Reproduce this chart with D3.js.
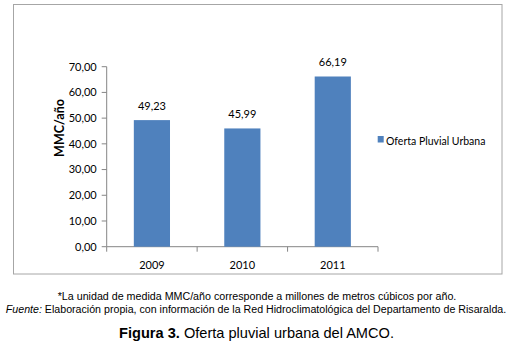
<!DOCTYPE html>
<html>
<head>
<meta charset="utf-8">
<script src="https://cdn.jsdelivr.net/npm/d3@7"></script>
<style>
  body { margin: 0; background: #fff; }
  svg { display: block; }
</style>
</head>
<body>
<script>
  // data
  const years = ["2009", "2010", "2011"];
  const values = [49.23, 45.99, 66.19];
  const seriesName = "Oferta Pluvial Urbana";
  const yTicks = [0, 10, 20, 30, 40, 50, 60, 70];

  const width = 512, height = 351;
  const chartFont = "Lato, 'Open Sans', sans-serif";
  const barColor = "#4f81bd";
  const axisColor = "#868686";

  const svg = d3.select("body").append("svg")
    .attr("width", width)
    .attr("height", height);

  // chart frame
  svg.append("rect")
    .attr("x", 13.5).attr("y", 4.5)
    .attr("width", 488.5).attr("height", 269.5)
    .attr("fill", "#fff")
    .attr("stroke", "#a6a6a6")
    .attr("stroke-width", 1);

  const x = d3.scaleBand()
    .domain(years)
    .range([106.7, 378])
    .paddingInner(0.6)
    .paddingOuter(0.3);

  const y = d3.scaleLinear()
    .domain([0, 70])
    .range([246.7, 66.7]);

  const fmt = (v) => d3.format(".2f")(v).replace(".", ",");

  // y axis
  const gy = svg.append("g").attr("transform", "translate(106.7,0)");
  gy.append("line")
    .attr("y1", y(70)).attr("y2", y(0))
    .attr("stroke", axisColor);
  gy.selectAll(".tick")
    .data(yTicks)
    .join("line")
    .attr("x1", -5).attr("x2", 0)
    .attr("y1", (d) => y(d)).attr("y2", (d) => y(d))
    .attr("stroke", axisColor);
  gy.selectAll("text")
    .data(yTicks)
    .join("text")
    .attr("x", -10)
    .attr("y", (d) => y(d))
    .attr("dy", "0.35em")
    .attr("text-anchor", "end")
    .attr("font-family", chartFont)
    .attr("font-size", 11)
    .attr("fill", "#000")
    .text((d) => fmt(d));

  // x axis
  const step = x.step();
  const edges = [x.range()[0]].concat(years.map((d) => x(d) + x.bandwidth() + step * x.paddingInner() / 2));
  edges[edges.length - 1] = x.range()[1];
  const gx = svg.append("g");
  gx.append("line")
    .attr("x1", x.range()[0]).attr("x2", x.range()[1])
    .attr("y1", y(0)).attr("y2", y(0))
    .attr("stroke", axisColor);
  gx.selectAll(".tick")
    .data(edges)
    .join("line")
    .attr("x1", (d) => d).attr("x2", (d) => d)
    .attr("y1", y(0)).attr("y2", y(0) + 5)
    .attr("stroke", axisColor);
  gx.selectAll("text")
    .data(years)
    .join("text")
    .attr("x", (d) => x(d) + x.bandwidth() / 2)
    .attr("y", y(0) + 22)
    .attr("text-anchor", "middle")
    .attr("font-family", chartFont)
    .attr("font-size", 11)
    .text((d) => d);

  // bars
  svg.selectAll(".bar")
    .data(values)
    .join("rect")
    .attr("x", (d, i) => x(years[i]))
    .attr("y", (d) => y(d))
    .attr("width", x.bandwidth())
    .attr("height", (d) => y(0) - y(d))
    .attr("fill", barColor);

  svg.selectAll(".val")
    .data(values)
    .join("text")
    .attr("x", (d, i) => x(years[i]) + x.bandwidth() / 2)
    .attr("y", (d) => y(d) - 10)
    .attr("text-anchor", "middle")
    .attr("font-family", chartFont)
    .attr("font-size", 11)
    .text((d) => fmt(d));

  // y label
  svg.append("text")
    .attr("transform", "translate(64,128) rotate(-90)")
    .attr("text-anchor", "middle")
    .attr("font-family", chartFont)
    .attr("font-weight", "bold")
    .attr("font-size", 12.5)
    .text("MMC/año");

  // legend
  svg.append("rect")
    .attr("x", 377.7).attr("y", 136)
    .attr("width", 6).attr("height", 6.5)
    .attr("fill", barColor);
  svg.append("text")
    .attr("x", 386).attr("y", 145)
    .attr("font-family", chartFont)
    .attr("font-size", 10.5)
    .text(seriesName);

  // captions
  const capFont = "'Liberation Sans', Arial, sans-serif";
  svg.append("text")
    .attr("x", 257).attr("y", 300)
    .attr("text-anchor", "middle")
    .attr("font-family", capFont)
    .attr("font-size", 10.7)
    .text("*La unidad de medida MMC/año corresponde a millones de metros cúbicos por año.");

  const src = svg.append("text")
    .attr("x", 256).attr("y", 313)
    .attr("text-anchor", "middle")
    .attr("font-family", capFont)
    .attr("font-size", 10.65);
  src.append("tspan").attr("font-style", "italic").text("Fuente:");
  src.append("tspan").text(" Elaboración propia, con información de la Red Hidroclimatológica del Departamento de Risaralda.");

  const title = svg.append("text")
    .attr("x", 256.5).attr("y", 338)
    .attr("text-anchor", "middle")
    .attr("font-family", capFont)
    .attr("font-size", 14.6);
  title.append("tspan").attr("font-weight", "bold").text("Figura 3.");
  title.append("tspan").text(" Oferta pluvial urbana del AMCO.");
</script>
</body>
</html>
